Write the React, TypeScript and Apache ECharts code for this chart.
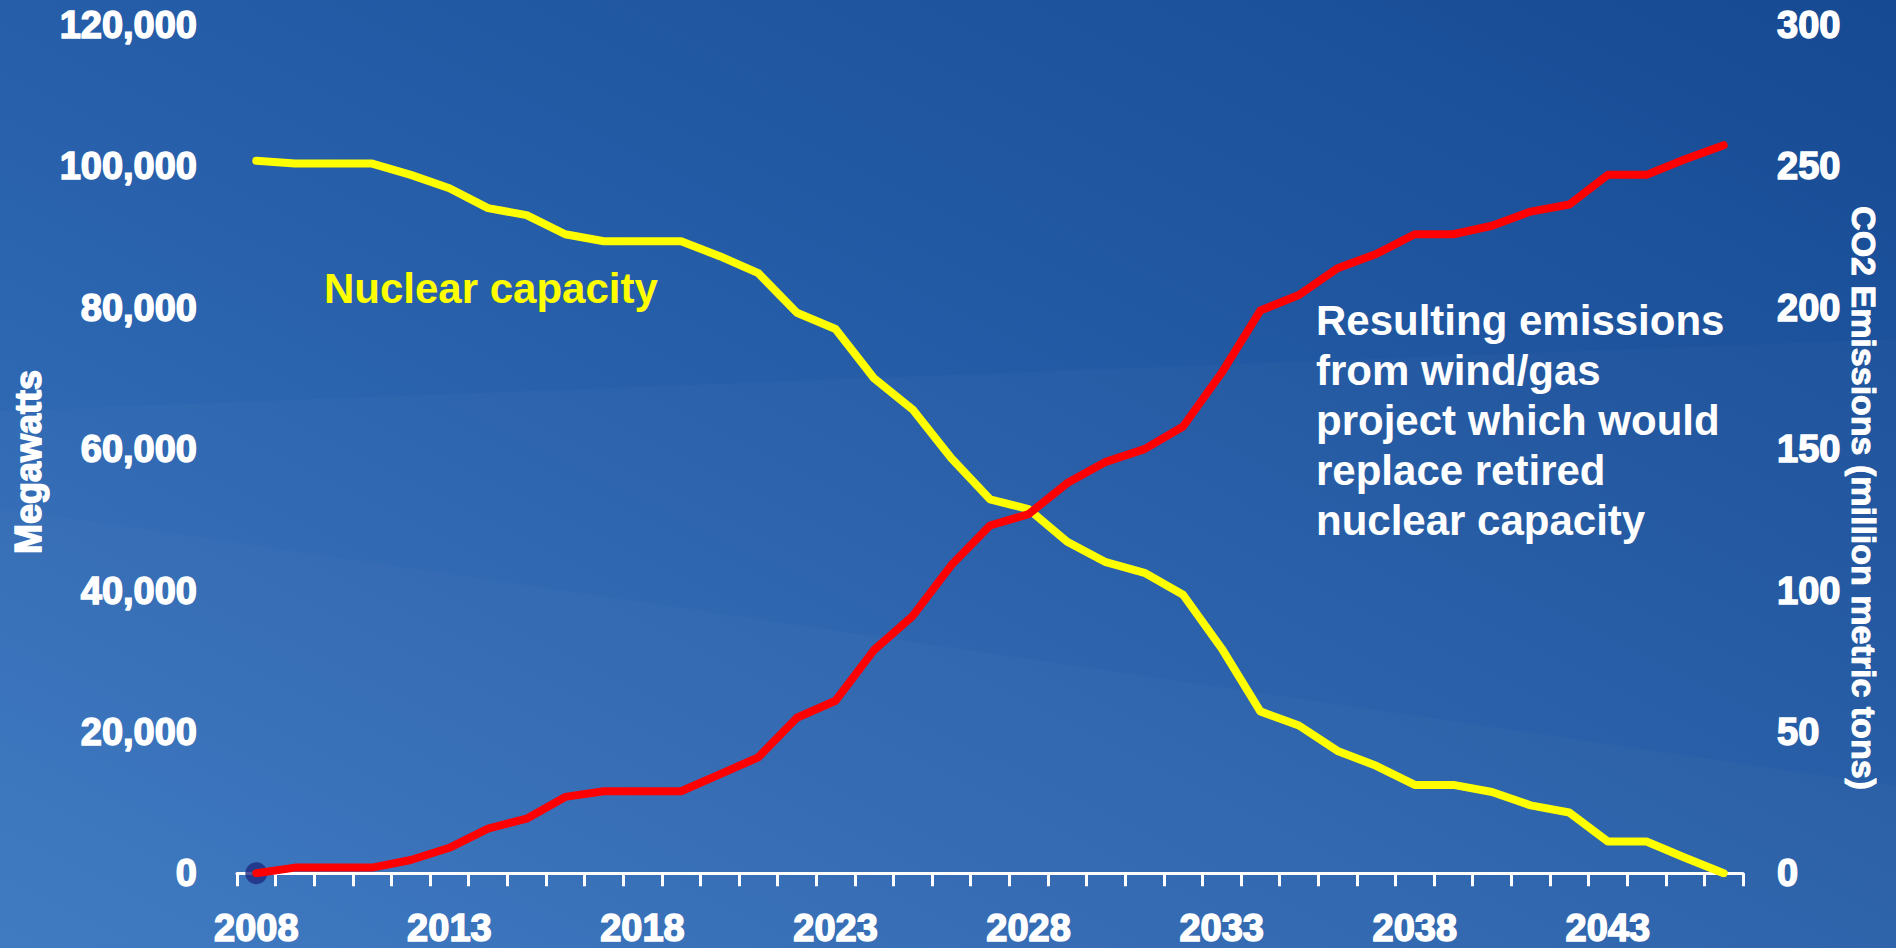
import React, { useEffect, useRef } from "react";
import * as echarts from "echarts";

const years: string[] = [];
for (let y = 2008; y <= 2046; y++) years.push(String(y));

const nuclearCapacity = [
  100800, 100400, 100400, 100400, 98800, 96900, 94100, 93100, 90400, 89400,
  89400, 89400, 87300, 84900, 79300, 77000, 70000, 65600, 58700, 52900,
  51500, 46900, 44000, 42500, 39400, 31800, 22900, 20900, 17300, 15200,
  12500, 12500, 11500, 9600, 8600, 4500, 4500, 2200, 0,
];

const emissions = [
  0, 2, 2, 2, 4.7, 9, 15.8, 19.3, 27, 29,
  29, 29, 35, 41, 55, 61, 79, 91, 109, 123,
  127, 138, 145.5, 150, 158, 177, 199, 204.5, 214, 219,
  226, 226, 229, 234, 236.5, 247, 247, 252.5, 257.5,
];

const leftTicks = { min: 0, max: 120000, interval: 20000 };
const rightTicks = { min: 0, max: 300, interval: 50 };

const FONT = '"Liberation Sans", Arial, sans-serif';

export default function App() {
  const ref = useRef<HTMLDivElement>(null);
  useEffect(() => {
    if (!ref.current) return;
    const chart = echarts.init(ref.current, undefined, { renderer: "svg" });
    const labelStyle = {
      color: "#ffffff",
      fontFamily: FONT,
      fontWeight: "bold" as const,
      fontSize: 38,
      textBorderColor: "#ffffff",
      textBorderWidth: 1.5,
    };
    chart.setOption({
      animation: false,
      backgroundColor: new echarts.graphic.LinearGradient(0, 1, 1, 0, [
        { offset: 0, color: "#3a77c0" },
        { offset: 0.45, color: "#2860ab" },
        { offset: 1, color: "#164a93" },
      ]),
      graphic: [
        {
          type: "polygon",
          silent: true,
          z: 0,
          shape: { points: [[0, 411], [1896, 339], [1896, 948], [0, 948]] },
          style: { fill: "rgba(255,255,255,0.018)" },
        },
        {
          type: "polygon",
          silent: true,
          z: 0,
          shape: { points: [[0, 508], [1896, 786], [1896, 948], [0, 948]] },
          style: { fill: "rgba(255,255,255,0.02)" },
        },
        {
          type: "text",
          x: 28,
          y: 462,
          rotation: Math.PI / 2,
          style: {
            text: "Megawatts",
            fill: "#ffffff",
            font: `bold 36px ${FONT}`,
            stroke: "#ffffff",
            lineWidth: 1.5,
            align: "center",
            verticalAlign: "middle",
          },
        },
        {
          type: "text",
          x: 1864,
          y: 498,
          rotation: -Math.PI / 2,
          style: {
            text: "CO2 Emissions (million metric tons)",
            fill: "#ffffff",
            font: `bold 34px ${FONT}`,
            stroke: "#ffffff",
            lineWidth: 1,
            align: "center",
            verticalAlign: "middle",
          },
        },
        {
          type: "text",
          x: 324,
          y: 267,
          style: {
            text: "Nuclear capacity",
            fill: "#ffff00",
            font: `bold 42px ${FONT}`,
            lineHeight: 42,
            align: "left",
            verticalAlign: "top",
          },
        },
        {
          type: "text",
          x: 1316,
          y: 295,
          style: {
            text:
              "Resulting emissions\nfrom wind/gas\nproject which would\nreplace retired\nnuclear capacity",
            fill: "#ffffff",
            font: `bold 42px ${FONT}`,
            lineHeight: 50,
            align: "left",
            verticalAlign: "top",
          },
        },
      ],
      grid: { left: 237, right: 153, top: 25, bottom: 73, containLabel: false },
      xAxis: {
        type: "category",
        data: years,
        boundaryGap: true,
        axisLine: { show: true, lineStyle: { color: "#ffffff", width: 3 } },
        axisTick: { show: true, interval: 0, length: 13, lineStyle: { color: "#ffffff", width: 3 } },
        axisLabel: { ...labelStyle, interval: 4, margin: 36 },
        splitLine: { show: false },
      },
      yAxis: [
        {
          type: "value",
          ...leftTicks,
          position: "left",
          axisLine: { show: false },
          axisTick: { show: false },
          splitLine: { show: false },
          axisLabel: {
            ...labelStyle,
            margin: 40,
            formatter: (v: number) => v.toLocaleString("en-US"),
          },
        },
        {
          type: "value",
          ...rightTicks,
          position: "right",
          axisLine: { show: false },
          axisTick: { show: false },
          splitLine: { show: false },
          axisLabel: { ...labelStyle, margin: 34 },
        },
      ],
      series: [
        {
          name: "Nuclear capacity",
          type: "line",
          data: nuclearCapacity,
          yAxisIndex: 0,
          symbol: "none",
          lineStyle: { color: "#ffff00", width: 8, cap: "round", join: "round" },
          z: 3,
        },
        {
          name: "Emissions",
          type: "line",
          data: emissions,
          yAxisIndex: 1,
          symbol: "none",
          lineStyle: { color: "#ff0000", width: 8, cap: "round", join: "round" },
          z: 4,
        },
        {
          name: "origin",
          type: "scatter",
          yAxisIndex: 1,
          data: [[years[0], emissions[0]]],
          symbol: "circle",
          symbolSize: 22,
          itemStyle: { color: "#1f2c80" },
          z: 2,
          silent: true,
        },
      ],
    });
    return () => chart.dispose();
  }, []);
  return (
    <div
      ref={ref}
      style={{ position: "fixed", left: 0, top: 0, width: 1896, height: 948 }}
    />
  );
}
